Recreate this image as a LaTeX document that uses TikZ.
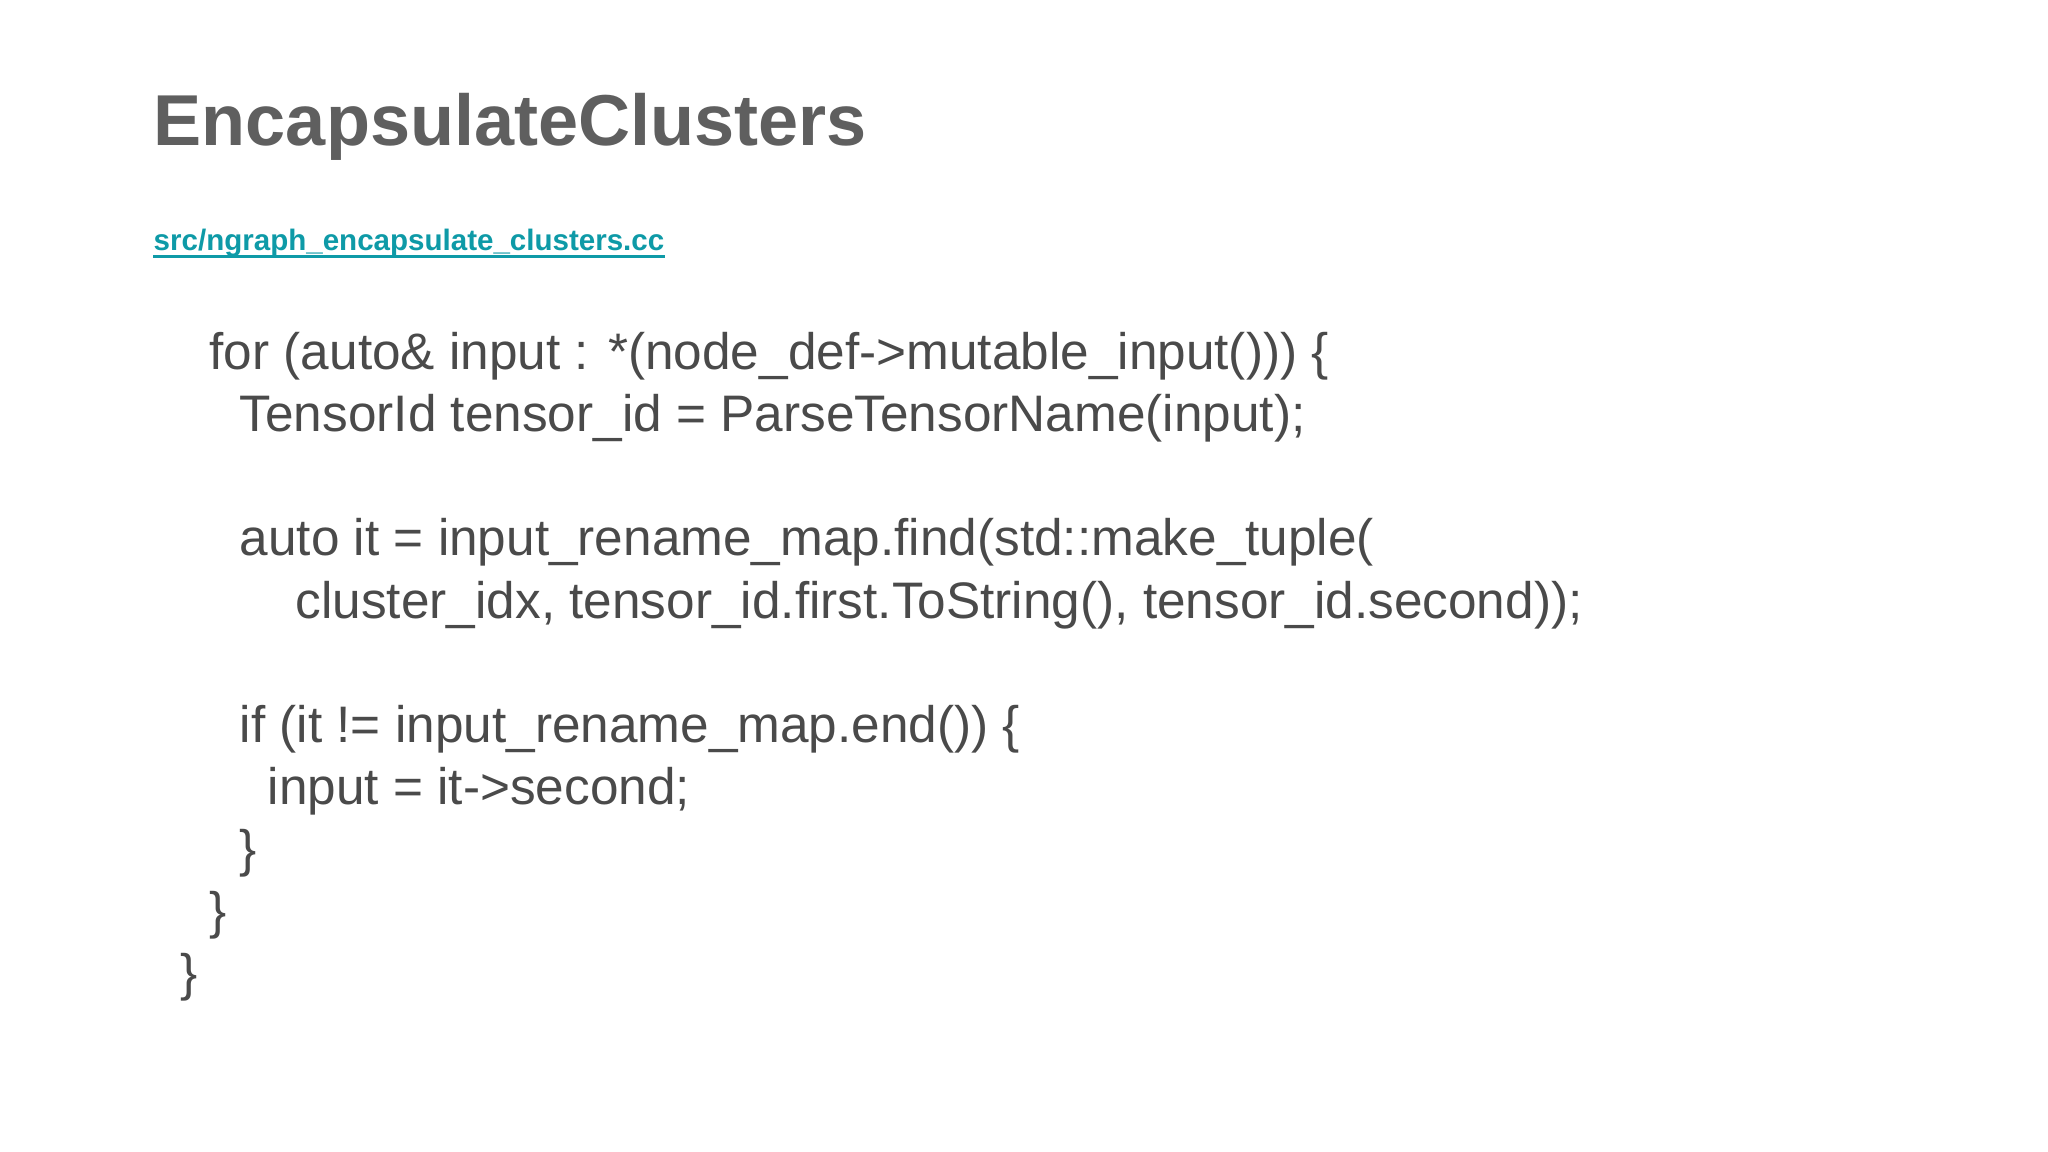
\documentclass[tikz,border=0pt]{standalone}
\usepackage{fontspec}
\setmainfont{Liberation Sans}
\definecolor{titlegray}{HTML}{5F5F5F}
\definecolor{codegray}{HTML}{4A4A4A}
\definecolor{linkteal}{HTML}{0E9AA7}
\begin{document}
\begin{tikzpicture}[x=0.01cm,y=-0.01cm,
  codeline/.style={anchor=base west,inner sep=0,text=codegray,font=\fontsize{14.6pt}{16pt}\selectfont}]
\useasboundingbox[fill=white] (0,0) rectangle (2048,1152);
\node[anchor=base west,inner sep=0,text=titlegray,font=\fontsize{20.5pt}{22pt}\selectfont\bfseries] (title) at (153,146) {EncapsulateClusters};
\node[anchor=base west,inner sep=0,text=linkteal,font=\fontsize{8.4pt}{10pt}\selectfont\bfseries] (link) at (153,251) {src/ngraph\_encapsulate\_clusters.cc};
\draw[linkteal,line width=0.8pt] ([yshift=-1.5pt]link.base west) -- ([yshift=-1.5pt]link.base east);
\node[codeline] (l1) at (209,370) {for (auto\& input : *(node\_def->mutable\_input())) \{};
\node[codeline] (l2) at (239,432) {TensorId tensor\_id = ParseTensorName(input);};
\node[codeline] (l3) at (239,556) {auto it = input\_rename\_map.find(std::make\_tuple(};
\node[codeline] (l4) at (295,618) {cluster\_idx, tensor\_id.first.ToString(), tensor\_id.second));};
\node[codeline] (l5) at (239,742) {if (it != input\_rename\_map.end()) \{};
\node[codeline] (l6) at (267,804) {input = it->second;};
\node[codeline] (l7) at (239,866) {\}};
\node[codeline] (l8) at (209,928) {\}};
\node[codeline] (l9) at (180,990) {\}};
\end{tikzpicture}
\end{document}
